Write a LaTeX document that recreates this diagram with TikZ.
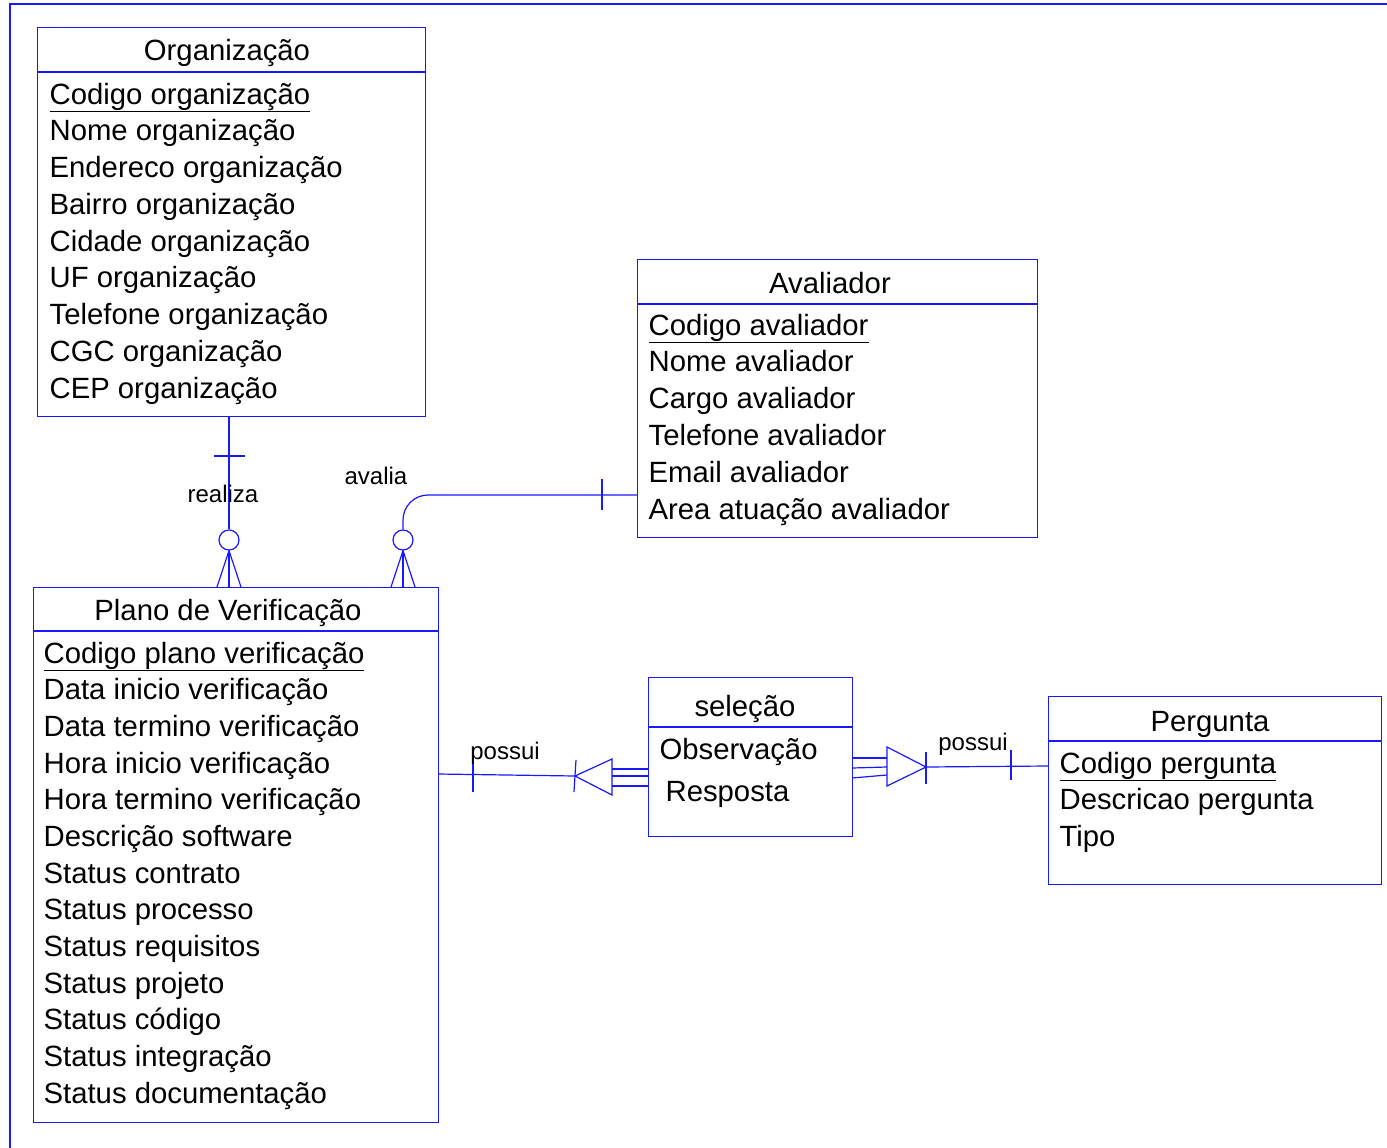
\documentclass[tikz,border=0pt]{standalone}
\usepackage{fontspec}
\setmainfont{Liberation Sans}
\usetikzlibrary{positioning,calc}
\definecolor{erblue}{RGB}{25,25,255}
\tikzset{every picture/.style={line width=1.2pt}}
\tikzset{
  entity/.style={draw=erblue, anchor=north west, inner sep=0pt},
  enttitle/.style={anchor=base, inner sep=0pt, text=black, font=\fontsize{29.3}{35}\selectfont},
  attr/.style={anchor=base west, inner sep=0pt, text=black, font=\fontsize{29.3}{35}\selectfont},
  rel/.style={anchor=base, inner sep=0pt, text=black, font=\fontsize{24}{29}\selectfont},
  opt/.style={draw=erblue, circle, minimum size=20pt, inner sep=0pt}
}

\begin{document}
\begin{tikzpicture}[x=1pt,y=-1pt,color=erblue,text=black]
\useasboundingbox (0,0) rectangle (1387,1148);
\draw (1387,4) -- (10,4) -- (10,1148);
%
\node[entity, minimum width=388pt, minimum height=389pt] (org) at (37,27) {};
\draw (37,72) -- (425,72);
\node[enttitle] (orgT) at (227,61) {Organização};
\node[attr] (org0) at (49,104) {\underline{Codigo organização}};
\foreach \t [count=\i] in {Nome organização, Endereco organização,
    Bairro organização, Cidade organização, UF organização,
    Telefone organização, CGC organização, CEP organização}
\node[attr] (org\i) at (49,{104+36.75*\i}) {\t};
%
\node[entity, minimum width=400pt, minimum height=278pt] (ava) at (637,259) {};
\draw (637,304) -- (1037,304);
\node[enttitle] (avaT) at (830,293) {Avaliador};
\node[attr] (ava0) at (648,335) {\underline{Codigo avaliador}};
\foreach \t [count=\i] in {Nome avaliador, Cargo avaliador, Telefone avaliador,
    Email avaliador, Area atuação avaliador}
\node[attr] (ava\i) at (648,{335+36.8*\i}) {\t};
%
\node[entity, minimum width=405pt, minimum height=535pt] (pla) at (33,587) {};
\draw (33,631) -- (438,631);
\node[enttitle] (plaT) at (228,620) {Plano de Verificação};
\node[attr] (pla0) at (43,663) {\underline{Codigo plano verificação}};
\foreach \t [count=\i] in {Data inicio verificação, Data termino verificação,
    Hora inicio verificação, Hora termino verificação, Descrição software,
    Status contrato, Status processo, Status requisitos, Status projeto,
    Status código, Status integração, Status documentação}
\node[attr] (pla\i) at (43,{663+36.67*\i}) {\t};
%
\node[entity, minimum width=204pt, minimum height=159pt] (sel) at (648,677) {};
\draw (648,727) -- (852,727);
\node[enttitle] (selT) at (745,716) {seleção};
\node[attr] (sel1) at (659,759) {Observação};
\node[attr] (sel2) at (665,801) {Resposta};
%
\node[entity, minimum width=333pt, minimum height=188pt] (per) at (1048,696) {};
\draw (1048,741) -- (1381,741);
\node[enttitle] (perT) at (1210,731) {Pergunta};
\node[attr] (per0) at (1059,773) {\underline{Codigo pergunta}};
\node[attr] (per1) at (1059,809) {Descricao pergunta};
\node[attr] (per2) at (1059,846) {Tipo};
%
% realiza
\node[opt] (o1) at (229,540) {};
\draw (o1.north) -- (o1.north |- org.south);
\draw (214,456) -- (245,456);
\foreach \dx in {-12,0,12}
\draw (o1.south) -- ($(o1.south |- pla.north)+(\dx,0)$);
\node[rel] (realiza) at (223,502) {realiza};
%
% avalia
\node[opt] (o2) at (403,540) {};
\coordinate (avaA) at (637,495);
\draw[rounded corners=25pt] (avaA) -- (o2.north |- avaA) -- (o2.north);
\draw (602,479) -- (602,510);
\foreach \dx in {-12,0,12}
\draw (o2.south) -- ($(o2.south |- pla.north)+(\dx,0)$);
\node[rel] (avalia) at (376,484) {avalia};
%
% possui (plano - selecao)
\coordinate (plaA) at (438,774);
\coordinate (tipL) at (575,776);
\draw (plaA) -- (tipL);
\draw (473,761) -- (473,792);
\draw (576,760) -- (574,792);
\draw (tipL) -- (612,759) -- (612,795) -- cycle;
\foreach \y in {769,776,786}
\draw (612,\y) -- (648,\y);
\node[rel] (possui1) at (505,759) {possui};
%
% possui (selecao - pergunta)
\foreach \y/\z in {758/758,768/767,778/775}
\draw (852,\y) -- (887,\z);
\coordinate (tipR) at (926,767);
\coordinate (perA) at (1048,766);
\draw (tipR) -- (887,747) -- (887,786) -- cycle;
\draw (926,752) -- (926,784);
\draw (tipR) -- (perA);
\draw (1011,750) -- (1011,780);
\node[rel] (possui2) at (973,750) {possui};
\end{tikzpicture}
\end{document}
